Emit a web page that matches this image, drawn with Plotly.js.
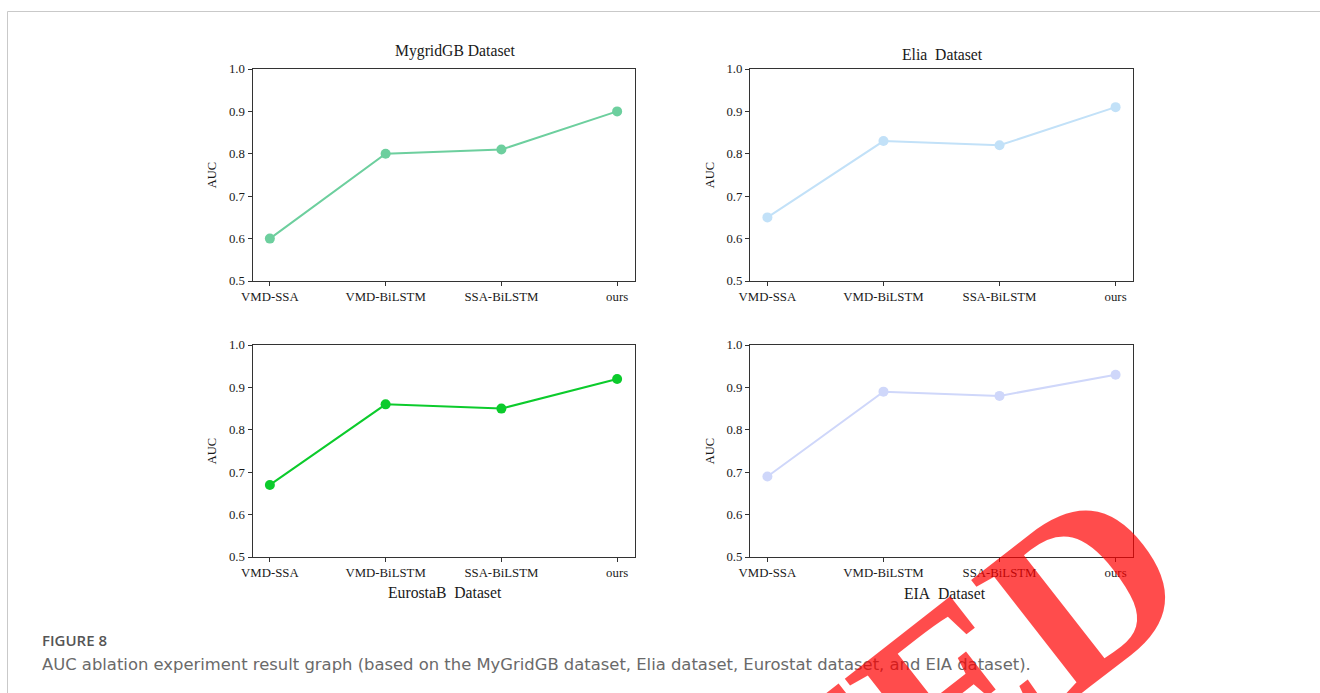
<!DOCTYPE html>
<html>
<head>
<meta charset="utf-8">
<script src="https://cdn.plot.ly/plotly-3.0.1.min.js"></script>
<style>
html,body{margin:0;padding:0;background:#fff;}
#chart{width:1320px;height:693px;}
</style>
</head>
<body>
<div id="chart"></div>
<script>
// ---- data ----
var categories = ["VMD-SSA", "VMD-BiLSTM", "SSA-BiLSTM", "ours"];
var mygridValues = [0.60, 0.80, 0.81, 0.90];
var eliaValues = [0.65, 0.83, 0.82, 0.91];
var eurostatValues = [0.67, 0.86, 0.85, 0.92];
var eiaValues = [0.69, 0.89, 0.88, 0.93];
var yTicks = [0.5, 0.6, 0.7, 0.8, 0.9, 1.0];
var panelTitles = ["MygridGB Dataset", "Elia\u00A0 Dataset", "EurostaB\u00A0 Dataset", "EIA\u00A0 Dataset"];
var captionHead = "FIGURE 8";
var captionBody = "AUC ablation experiment result graph (based on the MyGridGB dataset, Elia dataset, Eurostat dataset, and EIA dataset).";
var stampText = "RETRACTED";

var W = 1320, H = 693;
function px(x){ return x / W; }
function py(y){ return 1 - y / H; }

var colors = ["#6dcf9e", "#c2e1f8", "#0ccb2c", "#cfd7fa"];
var series = [mygridValues, eliaValues, eurostatValues, eiaValues];
var xDom = [[px(252.5), px(634.5)], [px(750), px(1133)], [px(252.5), px(634.5)], [px(750), px(1133)]];
var yDom = [[py(281), py(69)], [py(281), py(69)], [py(557), py(345)], [py(557), py(345)]];

var serif = "Liberation Serif, Times New Roman, serif";
var ink = "#1a1a1a";
var traces = [];
var layout = {
  width: W, height: H,
  margin: {l:0, r:0, t:0, b:0, autoexpand:false},
  paper_bgcolor: "#ffffff",
  plot_bgcolor: "#ffffff",
  showlegend: false,
  font: {family: serif, size: 12.8, color: ink},
  annotations: [],
  shapes: []
};

for (var i = 0; i < 4; i++) {
  var n = i + 1;
  var xa = "x" + (n === 1 ? "" : n), ya = "y" + (n === 1 ? "" : n);
  traces.push({
    type: "scatter", mode: "lines+markers",
    x: categories, y: series[i],
    xaxis: xa, yaxis: ya,
    line: {color: colors[i], width: 2},
    marker: {color: colors[i], size: 10},
    hoverinfo: "x+y"
  });
  var xk = "xaxis" + (n === 1 ? "" : n), yk = "yaxis" + (n === 1 ? "" : n);
  layout[xk] = {
    domain: xDom[i], anchor: ya,
    type: "category", range: [-0.15, 3.15],
    showgrid: false, zeroline: false,
    showline: true, mirror: true, linecolor: "#333", linewidth: 1,
    ticks: "outside", ticklen: 4, tickwidth: 1, tickcolor: "#333",
    tickfont: {family: serif, size: 12.8, color: ink},
    fixedrange: true
  };
  layout[yk] = {
    domain: yDom[i], anchor: xa,
    range: [0.5, 1.0],
    tickvals: yTicks, tickformat: ".1f",
    showgrid: false, zeroline: false,
    showline: true, mirror: true, linecolor: "#333", linewidth: 1,
    ticks: "outside", ticklen: 4, tickwidth: 1, tickcolor: "#333",
    tickfont: {family: serif, size: 12.8, color: ink},
    title: {text: "AUC", font: {family: serif, size: 12.5, color: ink}, standoff: 9},
    fixedrange: true
  };
}

// panel titles
var titlePos = [[455, 51], [942.5, 55], [444.5, 592], [945, 593]];
for (var j = 0; j < 4; j++) {
  layout.annotations.push({
    xref: "paper", yref: "paper", x: px(titlePos[j][0]), y: py(titlePos[j][1]),
    xanchor: "center", yanchor: "middle", showarrow: false,
    text: panelTitles[j], font: {family: serif, size: 15.7, color: ink}
  });
}

// caption
layout.annotations.push({
  xref: "paper", yref: "paper", x: px(40), y: py(640), xanchor: "left", yanchor: "middle",
  showarrow: false, text: captionHead, font: {family: "Open Sans, sans-serif", size: 15, color: "#555", weight: 600}
});
layout.annotations.push({
  xref: "paper", yref: "paper", x: px(40), y: py(664), xanchor: "left", yanchor: "middle",
  showarrow: false, text: captionBody, font: {family: "DejaVu Sans, sans-serif", size: 16.4, color: "#6a6a6a"}
});

// frame border
layout.shapes.push({type: "line", xref: "paper", yref: "paper", x0: px(7.5), x1: 1, y0: py(11.5), y1: py(11.5), line: {color: "#c9c9c9", width: 1}});
layout.shapes.push({type: "line", xref: "paper", yref: "paper", x0: px(7.5), x1: px(7.5), y0: py(11.5), y1: 0, line: {color: "#c9c9c9", width: 1}});

// stamp watermark
layout.annotations.push({
  xref: "paper", yref: "paper", x: px(557), y: py(1000), xanchor: "center", yanchor: "middle",
  showarrow: false, textangle: -38, text: stampText,
  font: {family: serif, size: 240, color: "rgba(255,0,0,0.7)", weight: 700}
});

Plotly.newPlot("chart", traces, layout, {displayModeBar: false, staticPlot: true});
</script>
</body>
</html>
